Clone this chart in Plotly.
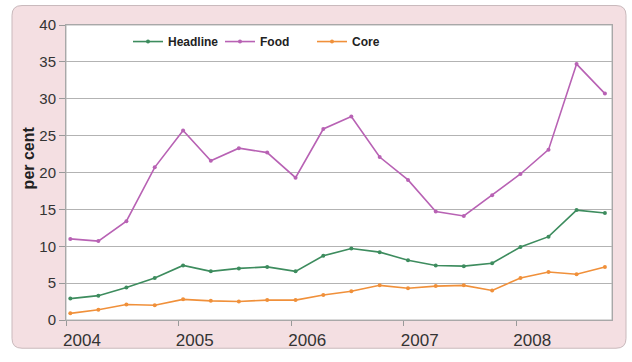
import plotly.graph_objects as go

# Quarterly inflation rates, 2004 Q1 - 2008 Q4 (per cent)
quarters = ["2004-01-15", "2004-04-15", "2004-07-15", "2004-10-15",
            "2005-01-15", "2005-04-15", "2005-07-15", "2005-10-15",
            "2006-01-15", "2006-04-15", "2006-07-15", "2006-10-15",
            "2007-01-15", "2007-04-15", "2007-07-15", "2007-10-15",
            "2008-01-15", "2008-04-15", "2008-07-15", "2008-10-15"]
headline = [2.9, 3.3, 4.4, 5.7, 7.4, 6.6, 7.0, 7.2, 6.6, 8.7,
            9.7, 9.2, 8.1, 7.4, 7.3, 7.7, 9.9, 11.3, 14.9, 14.5]
food = [11.0, 10.7, 13.4, 20.7, 25.7, 21.6, 23.3, 22.7, 19.3, 25.9,
        27.6, 22.1, 19.0, 14.7, 14.1, 16.9, 19.8, 23.1, 34.7, 30.7]
core = [0.9, 1.4, 2.1, 2.0, 2.8, 2.6, 2.5, 2.7, 2.7, 3.4,
        3.9, 4.7, 4.3, 4.6, 4.7, 4.0, 5.7, 6.5, 6.2, 7.2]

year_ticks = ["2004-01-01", "2005-01-01", "2006-01-01", "2007-01-01", "2008-01-01"]
year_labels = ["2004", "2005", "2006", "2007", "2008"]
y_ticks = [0, 5, 10, 15, 20, 25, 30, 35, 40]

series = [("Headline", headline, "#3d8c5e"),
          ("Food", food, "#b862b4"),
          ("Core", core, "#f0903a")]

fig = go.Figure()
for name, vals, color in series:
    fig.add_trace(go.Scatter(
        x=quarters, y=vals, name=name, mode="lines+markers",
        line=dict(color=color, width=1.6),
        marker=dict(color=color, size=4),
    ))

W, H = 632, 362
L, R, T, B = 66, 20, 25, 34
pw, ph = W - L - R, H - T - B


def px_x(p):
    return (p - L) / pw


def px_y(p):
    return (H - B - p) / ph


# Rounded pink frame behind the chart, with white plotting panel on top
x0, x1 = px_x(12), px_x(626)
y0, y1 = px_y(357), px_y(5)
rx, ry = 10 / pw, 10 / ph
frame = (f"M{x0 + rx},{y1} L{x1 - rx},{y1} Q{x1},{y1} {x1},{y1 - ry} "
         f"L{x1},{y0 + ry} Q{x1},{y0} {x1 - rx},{y0} L{x0 + rx},{y0} "
         f"Q{x0},{y0} {x0},{y0 + ry} L{x0},{y1 - ry} Q{x0},{y1} {x0 + rx},{y1} Z")

fig.update_layout(
    width=W, height=H,
    margin=dict(l=L, r=R, t=T, b=B),
    paper_bgcolor="white",
    plot_bgcolor="white",
    font=dict(family="Liberation Sans, Arial, sans-serif", color="#333333"),
    shapes=[
        dict(type="path", path=frame, xref="paper", yref="paper",
             fillcolor="#f4dfe2", line=dict(color="#c9b9bc", width=1), layer="below"),
        dict(type="rect", xref="paper", yref="paper", x0=0, x1=1, y0=0, y1=1,
             fillcolor="white", line=dict(color="#b5b5b5", width=1), layer="below"),
    ],
    showlegend=True,
    legend=dict(
        orientation="h", x=px_x(128), y=px_y(42), xanchor="left", yanchor="middle",
        bgcolor="rgba(0,0,0,0)",
        font=dict(size=12, color="#222222", weight="bold",
                  family="Liberation Sans, Arial, sans-serif"),
        entrywidth=47, tracegroupgap=0, itemwidth=30,
    ),
    annotations=[
        dict(text="<b>per cent</b>", textangle=-90, xref="paper", yref="paper",
             x=px_x(28), y=px_y(162), xanchor="center", yanchor="middle",
             showarrow=False,
             font=dict(size=16, color="#222222", family="Liberation Sans, Arial, sans-serif")),
    ],
)

fig.update_xaxes(
    type="date", range=["2004-01-01", "2008-11-07"],
    tickvals=year_ticks, ticktext=year_labels,
    ticks="outside", ticklen=5, tickcolor="#999999",
    tickfont=dict(size=17, color="#333333"), ticklabelshift=16,
    showgrid=False, showline=True, linecolor="#a8a8a8", linewidth=1, mirror=True,
    zeroline=False,
)
fig.update_yaxes(
    range=[0, 40], tickvals=y_ticks,
    ticks="outside", ticklen=6, tickcolor="#999999",
    tickfont=dict(size=15, color="#333333"),
    showgrid=True, gridcolor="#b3b3b3", gridwidth=1.2,
    showline=True, linecolor="#a8a8a8", linewidth=1, mirror=True,
    zeroline=False,
)

fig.write_html("out.html")
